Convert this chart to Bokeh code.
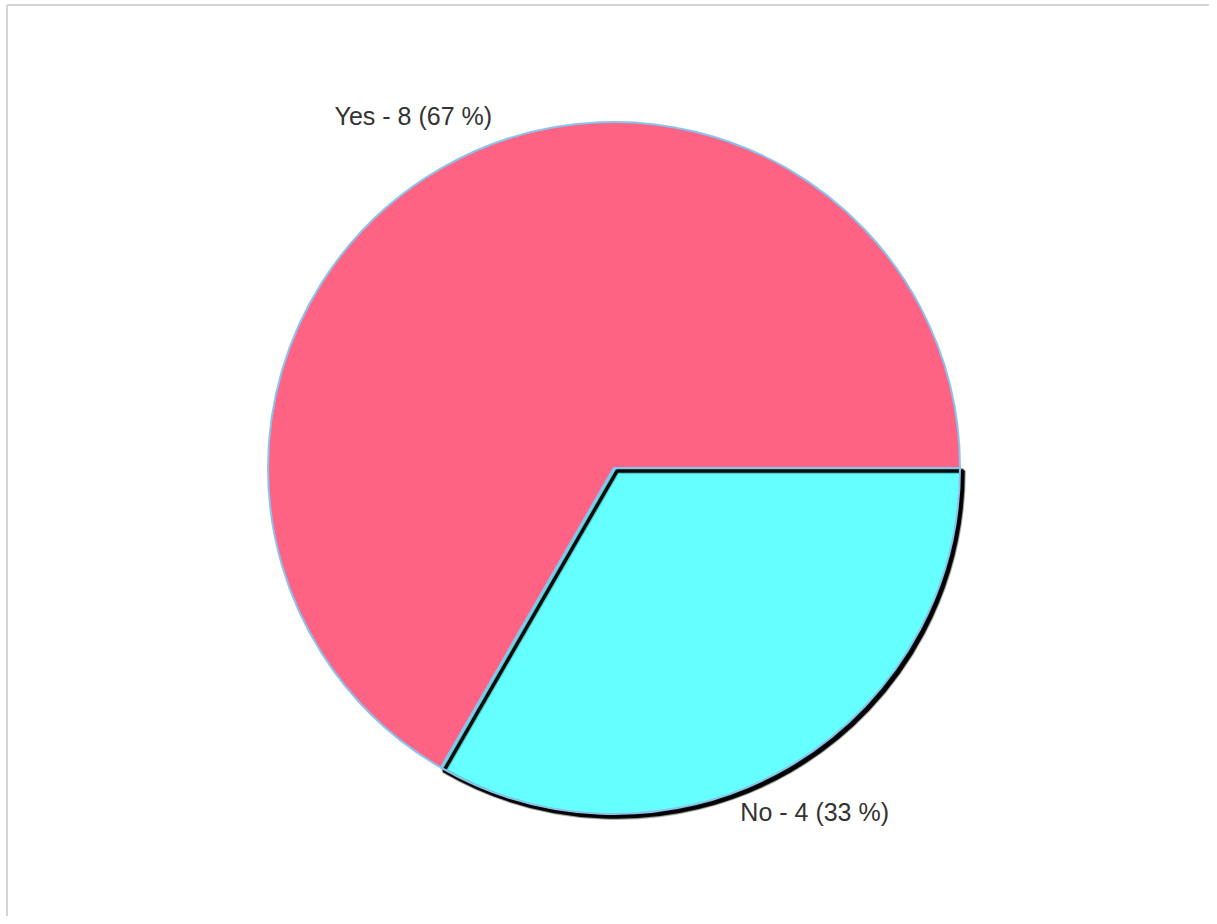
import numpy as np
from bokeh.plotting import figure
from bokeh.models import ColumnDataSource, Range1d
from bokeh.core.properties import value
from bokeh.embed import file_html
from bokeh.resources import INLINE

# ---- data ----
labels = ["Yes", "No"]
counts = [8, 4]
colors = ["#FF6384", "#66FFFF"]
highlighted = "No"   # slice drawn with a drop shadow

# ---- layout (pixel coordinates, origin top-left of canvas) ----
W, H = 1209, 916
CX, CY = 613.5, 467.5
R = 346
LABEL_R = 1.16 * R
LABEL_DY = 4               # labels sit slightly above the radial point
SH = 3                     # shadow offset in px
BX, BY = 6.5, 4.5          # frame border lines

cx = CX
cy = H - CY

vals = np.array(counts, dtype=float)
total = vals.sum()
frac = vals / total
ends = np.cumsum(frac) * 2 * np.pi
starts = np.concatenate([[0.0], ends[:-1]])
mids = (starts + ends) / 2
texts = [f"{l} - {c} ({round(100 * f)} %)" for l, c, f in zip(labels, counts, frac)]

src = ColumnDataSource(dict(
    start=starts, end=ends, color=colors, text=texts,
    lx=cx + LABEL_R * np.cos(mids), ly=cy + LABEL_R * np.sin(mids) + LABEL_DY,
))
hi = [i for i, l in enumerate(labels) if l == highlighted]
hsrc = ColumnDataSource(dict(start=starts[hi], end=ends[hi],
                             color=[colors[i] for i in hi]))

p = figure(width=W, height=H, x_range=Range1d(0, W), y_range=Range1d(0, H),
           output_backend="svg", toolbar_location=None, min_border=0)
p.axis.visible = False
p.grid.visible = False
p.outline_line_color = None
p.background_fill_color = "white"
p.border_fill_color = "white"

# container border (top and left only visible)
p.segment(x0=[BX, BX], y0=[H - BY, H - BY], x1=[BX, W + 10], y1=[-10, H - BY],
          line_color="#d4d4d4", line_width=2)

BLUE = "#8ac2ee"
wkw = dict(radius=R, start_angle="start", end_angle="end")
# regular slices
p.wedge(x=cx, y=cy, fill_color="color", line_color=BLUE, line_width=2, source=src, **wkw)
# highlighted slice: fill shadow, fill, stroke shadow, stroke
p.wedge(x=cx + SH, y=cy - SH, fill_color="black", fill_alpha=0.9,
        line_color="black", line_alpha=0.25, line_width=5, source=hsrc, **wkw)
p.wedge(x=cx, y=cy, fill_color="color", line_color=None, source=hsrc, **wkw)
p.wedge(x=cx + SH, y=cy - SH, fill_color=None, line_color="black",
        line_width=6, line_alpha=0.2, source=hsrc, **wkw)
p.wedge(x=cx + SH, y=cy - SH, fill_color=None, line_color="black",
        line_width=3.5, line_alpha=0.95, source=hsrc, **wkw)
p.wedge(x=cx, y=cy, fill_color=None, line_color=BLUE, line_width=2, source=hsrc, **wkw)

p.text(x="lx", y="ly", text="text", source=src, text_align="center",
       text_baseline="middle", text_font=value("Liberation Sans"),
       text_font_size="25px", text_color="#333333")

open("out.html", "w").write(file_html(p, INLINE))
